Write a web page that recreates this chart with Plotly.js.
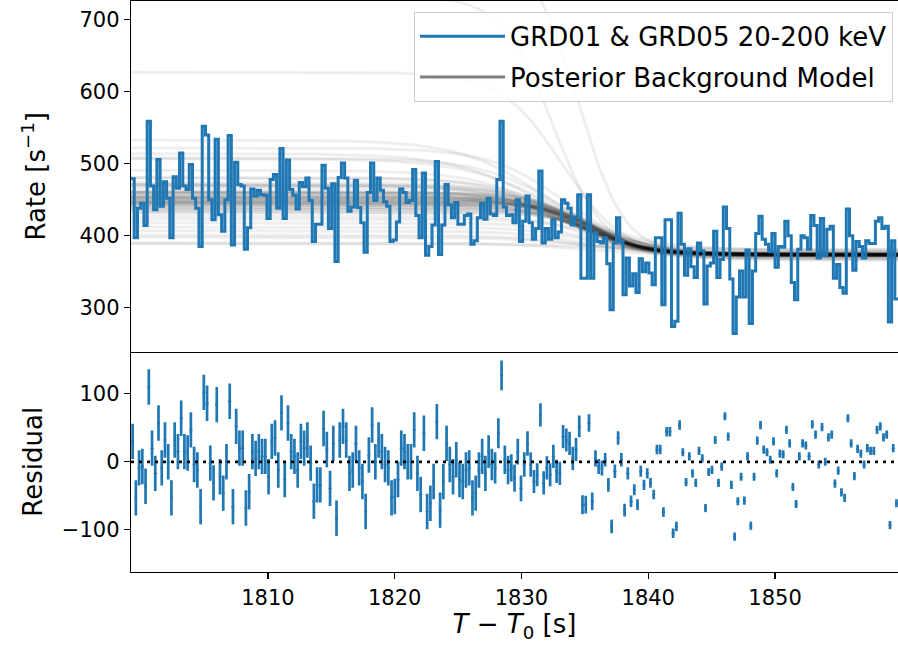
<!DOCTYPE html>
<html><head><meta charset="utf-8">
<script src="https://cdn.plot.ly/plotly-3.0.1.min.js"></script>
<style>body{margin:0;background:#fff}#chart{width:898px;height:650px}</style>
</head><body><div id="chart"></div>
<script>
// time binning
const tStart = 1799.2;
const binWidth = 0.2553;
const xRange = [1799.2, 1859.7];
const xTicks = [1810, 1820, 1830, 1840, 1850];
const rateTicks = [300, 400, 500, 600, 700];
const residTicks = [-100, 0, 100];
const residTickText = ['\u2212100', '0', '100'];

// GRD01 & GRD05 20-200 keV light curve (counts/s per bin)
const rate = [
479,397,438,445,414,559,469,436,506,441,
475,452,397,482,466,515,469,464,499,452,
438,385,552,540,450,422,534,429,406,450,
539,387,502,471,469,381,411,465,455,463,
457,456,424,478,485,438,521,424,505,464,
456,437,474,468,480,449,392,416,416,498,
466,410,472,364,481,501,480,434,440,477,
439,418,377,460,501,449,480,463,447,441,
392,394,419,465,460,446,449,492,428,397,
487,373,385,415,503,374,415,471,443,425,
446,416,416,428,430,388,393,425,445,423,
452,430,428,478,559,440,428,429,418,450,
392,420,455,418,395,410,490,390,410,395,
422,397,405,450,445,438,415,426,457,341,
341,457,341,404,392,390,397,361,297,390,
425,392,318,369,330,347,321,368,350,362,
348,332,397,397,304,422,422,274,281,431,
388,345,382,357,342,390,379,305,358,362,
406,342,367,440,410,340,264,315,351,315,
380,278,351,403,427,395,388,378,403,356,
385,384,420,400,335,311,381,400,397,381,
428,414,369,424,372,409,413,341,360,328,
320,437,400,352,392,385,369,393,389,389,
420,425,410,413,280,393,312];

// residuals per bin
const residual = [
30,-53,-9,-7,-36,110,20,-17,57,-9,
32,0,-53,32,15,64,15,13,47,-4,
-12,-66,102,86,-2,-31,84,-22,-46,0,
89,-66,52,20,20,-68,-44,15,5,15,
8,8,-22,30,35,-12,72,-26,57,15,
8,-12,30,20,32,-2,-58,-34,-34,49,
18,-39,27,-83,32,52,32,-17,-12,27,
-9,-29,-73,10,54,0,32,15,-4,-9,
-53,-51,-26,20,15,0,0,47,-17,-48,
42,-73,-61,-29,59,-71,-29,27,-4,-22,
3,-26,-29,-12,-9,-53,-46,-12,8,-17,
15,-4,-9,42,127,3,-12,-9,-24,15,
-39,-4,27,-4,-29,-19,69,-31,-9,-19,
8,-14,-17,37,32,27,5,18,52,-63,
-63,57,-58,5,-7,-9,3,-34,-95,-14,
35,3,-71,-17,-58,-41,-63,-14,-34,-17,
-31,-48,18,18,-74,44,44,-105,-95,54,
14,-30,8,-17,-31,16,5,-68,-15,-12,
32,-31,-7,67,37,-34,-110,-58,-22,-57,
8,-94,-22,31,54,18,14,3,30,-17,
12,11,47,27,-37,-62,8,27,24,8,
55,40,-4,51,0,36,40,-32,-13,-45,
-53,64,27,-21,19,12,-4,20,16,16,
47,52,36,40,-93,20,-61];

// residual error half-lengths per bin
const residualErr = [
26,26,26,26,26,26,26,26,26,26, 26,26,26,26,26,26,26,26,26,26,
26,26,26,26,26,26,26,26,26,26, 26,26,26,26,26,26,26,26,26,26,
26,26,26,26,26,26,26,26,26,26, 26,26,26,26,26,26,26,26,26,26,
26,26,26,26,26,26,26,26,26,26, 26,26,26,26,26,26,26,26,26,26,
26,26,26,26,26,26,26,26,26,26, 26,26,26,26,26,26,26,26,26,26,
26,26,26,26,26,26,26,26,26,26,
24,23,23,22,22,21,21,20,20,19,
19,18,18,18,17,17,17,17,17,17,
17,17,17,17,17,17,17,17,16,14,
13,13,13,12,11,11,10,10,10,10,
10,10,9.5,9,8.5,8,8,8,7.5,7.5,
7,7,7,7,7,7,7,7,7,7,
6,6,6,6,6,6,6,6,6,6, 6,6,6,6,6,6,6,6,6,6,
6,6,6,6,6,6,6,6,6,6, 6,6,6,6,6,6,6,6,6,6,
6,6,6,6,6,6,6,6,6,6, 6,6,6,6,6,6,6,6,6,6,
6,6,6,6,6,6,6];

// posterior background model samples (logistic step): base, amplitude, midpoint, width
const bgBase  = [371,374,369,375,373,368,376,374,372,373, 375,367,374,373,376,372,374,373,380,375,
                 374,373,372,381,373,379,374,373,372,373, 375,373,374,372,375,373,366,374,372,376,
                 373,374,372,373,375,374,373,372,374,373, 378,375,373,374,369,373,376,373,374,372];
const bgAmp   = [78,72,84,68,88,92,64,76,80,96, 60,104,70,86,56,90,66,74,100,48,
                 38,28,18,8,118,128,140,160,255,360, 62,82,74,94,52,84,108,70,88,42,
                 80,77,83,75,71,86,79,73,81,69, 92,58,98,63,112,34,22,135,420,150];
const bgMid   = [1835.0,1835.4,1834.6,1835.8,1834.2,1834.8,1836.2,1835.2,1835.6,1833.8,
                 1836.6,1833.4,1835.0,1834.4,1836.0,1834.0,1835.4,1835.8,1833.6,1836.4,
                 1835.5,1835.0,1835.0,1835.0,1833.0,1832.6,1832.0,1832.0,1833.2,1832.5,
                 1835.6,1834.8,1836.0,1834.6,1835.2,1834.0,1833.8,1836.4,1835.4,1835.0,
                 1835.2,1834.9,1835.3,1835.7,1834.7,1835.1,1834.5,1835.9,1835.3,1835.5,
                 1834.3,1836.1,1834.1,1835.6,1833.5,1835.0,1835.0,1833.2,1834.5,1833.5];
const bgWidth = [2.3,2.1,2.5,1.9,2.7,2.9,1.8,2.2,2.0,3.0, 1.7,3.2,2.6,2.3,2.0,2.8,2.4,2.1,3.0,2.2,
                 2.6,3.0,3.0,3.0,3.4,3.6,3.6,3.4,2.4,2.0, 1.9,2.4,2.2,2.6,2.0,2.8,2.8,1.8,2.3,2.4,
                 2.5,2.2,2.4,2.1,2.6,2.3,2.5,2.0,2.2,2.4, 2.7,2.0,2.9,2.3,3.1,2.8,3.0,3.2,1.8,3.0];

const blue = '#1f77b4';
const font = 'DejaVu Sans, sans-serif';

const edges = [];
for (let i = 0; i <= rate.length; i++) edges.push(tStart + i * binWidth);
const centers = rate.map((_, i) => tStart + (i + 0.5) * binWidth);

const traces = [];
for (let k = 0; k < bgBase.length; k++) {
  traces.push({
    x: edges,
    y: edges.map(t => bgBase[k] + bgAmp[k] / (1 + Math.exp((t - bgMid[k]) / bgWidth[k]))),
    type: 'scatter', mode: 'lines', xaxis: 'x', yaxis: 'y',
    line: {color: 'rgba(0,0,0,0.065)', width: 3},
    showlegend: false, hoverinfo: 'skip'
  });
}
traces.push({
  x: edges, y: rate.concat([rate[rate.length - 1]]),
  type: 'scatter', mode: 'lines', xaxis: 'x', yaxis: 'y',
  line: {color: blue, width: 3, shape: 'hv'},
  name: 'GRD01 &amp; GRD05 20-200 keV', legendgroup: 'a'
});
traces.push({
  x: [null], y: [null], type: 'scatter', mode: 'lines', xaxis: 'x', yaxis: 'y',
  line: {color: 'rgba(0,0,0,0.5)', width: 3},
  name: 'Posterior Background Model', legendgroup: 'b'
});
traces.push({
  x: centers, y: residual, type: 'scatter', mode: 'markers', xaxis: 'x2', yaxis: 'y2',
  marker: {color: blue, size: 3},
  error_y: {type: 'data', array: residualErr, visible: true, thickness: 2.7, width: 0, color: blue},
  showlegend: false
});
traces.push({
  x: xRange, y: [0, 0], type: 'scatter', mode: 'lines', xaxis: 'x2', yaxis: 'y2',
  line: {color: 'black', width: 2.8, dash: '3px,5px'}, showlegend: false
});

const axCommon = {
  showline: true, linecolor: 'black', linewidth: 1.3, ticks: 'outside', ticklen: 6,
  tickwidth: 1.3, tickcolor: 'black', showgrid: false, zeroline: false,
  tickfont: {family: font, size: 21, color: 'black'}
};
const titleFont = {family: font, size: 26, color: 'black'};

const layout = {
  width: 898, height: 650,
  margin: {l: 131, r: 0, t: 1, b: 78},
  paper_bgcolor: 'white', plot_bgcolor: 'white',
  showlegend: true,
  legend: {
    x: 0.9935, y: 0.981, xanchor: 'right', yanchor: 'top',
    bgcolor: 'rgba(255,255,255,0.8)', bordercolor: '#cccccc', borderwidth: 1,
    font: {family: font, size: 26, color: 'black'},
    itemwidth: 85, traceorder: 'grouped', tracegroupgap: 4
  },
  xaxis: Object.assign({}, axCommon, {anchor: 'y', range: xRange, tickvals: xTicks,
    showticklabels: false, ticks: '', mirror: true}),
  yaxis: Object.assign({}, axCommon, {domain: [0.386, 1], range: [239, 726], tickvals: rateTicks,
    title: {text: 'Rate [s<sup>\u22121</sup>]', font: titleFont, standoff: 26}}),
  xaxis2: Object.assign({}, axCommon, {anchor: 'y2', range: xRange, tickvals: xTicks,
    title: {text: '<i>T</i> \u2212 <i>T</i><sub>0</sub> [s]', font: titleFont, standoff: 6}}),
  yaxis2: Object.assign({}, axCommon, {domain: [0, 0.386], range: [-162, 162], tickvals: residTicks,
    ticktext: residTickText,
    title: {text: 'Residual', font: titleFont, standoff: 11}})
};

Plotly.newPlot('chart', traces, layout, {displayModeBar: false, staticPlot: true});
</script>
</body></html>
